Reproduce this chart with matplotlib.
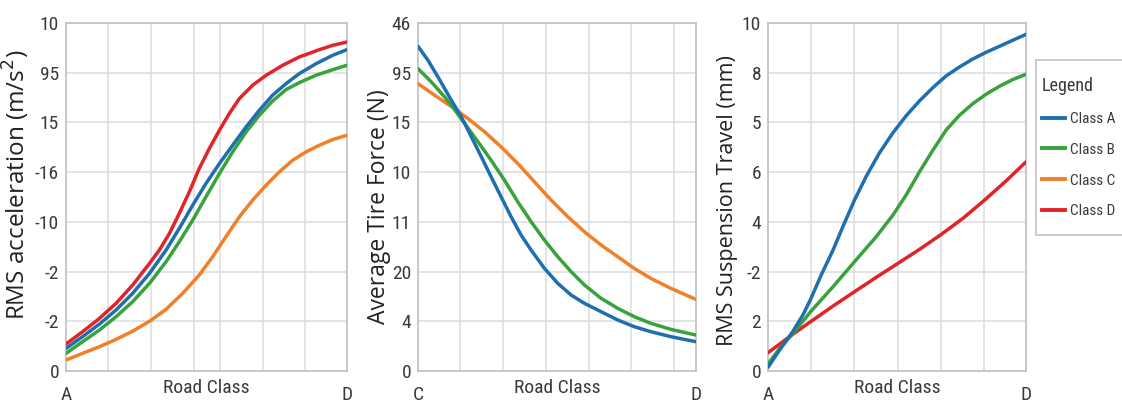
import matplotlib
matplotlib.use("Agg")
import matplotlib.pyplot as plt
from matplotlib.lines import Line2D
from matplotlib.patches import Rectangle
from matplotlib import font_manager

# ---------------- data ----------------
classes = ["Class A", "Class B", "Class C", "Class D"]
colors = {"Class A": "#1f6fb0", "Class B": "#38a23c", "Class C": "#f0802a", "Class D": "#e02428"}

# Panel 1: RMS acceleration (values in tick-index units)
p1_ticklabels = ["0", "-2", "-2", "-10", "-16", "15", "95", "10"]
p1_a_x = [0, .059, .119, .178, .237, .297, .356, .403, .451, .498, .546, .593, .641, .688, .735, .783, .830, .890, .949, 1.0]
p1_a_y = [.455, .690, .944, 1.226, 1.561, 1.962, 2.431, 2.867, 3.336, 3.771, 4.173, 4.541, 4.910, 5.245, 5.546, 5.780, 5.981, 6.182, 6.350, 6.464]
p1_b_x = [0, .059, .119, .178, .237, .297, .356, .403, .451, .498, .546, .593, .641, .688, .735, .783, .830, .890, .949, 1.0]
p1_b_y = [.355, .589, .824, 1.092, 1.393, 1.762, 2.197, 2.599, 3.034, 3.503, 3.972, 4.407, 4.809, 5.144, 5.430, 5.660, 5.800, 5.950, 6.060, 6.150]
p1_c_x = [0, .059, .119, .178, .237, .297, .356, .415, .474, .522, .569, .617, .664, .712, .759, .807, .854, .902, .949, 1.0]
p1_c_y = [.221, .355, .489, .636, .800, 1.000, 1.240, 1.560, 1.929, 2.300, 2.700, 3.101, 3.436, 3.737, 4.005, 4.240, 4.407, 4.541, 4.655, 4.742]
p1_d_x = [0, .059, .119, .178, .237, .297, .332, .368, .403, .439, .474, .510, .546, .581, .617, .664, .712, .771, .830, .902, .949, 1.0]
p1_d_y = [.543, .790, 1.058, 1.360, 1.728, 2.163, 2.431, 2.766, 3.168, 3.604, 4.072, 4.474, 4.843, 5.178, 5.479, 5.747, 5.948, 6.149, 6.316, 6.464, 6.551, 6.618]

# Panel 2: Average tire force
p2_ticklabels = ["0", "4", "20", "11", "10", "15", "95", "46"]
p2_a_x = [0, .036, .072, .120, .156, .192, .228, .263, .299, .335, .371, .407, .455, .503, .551, .599, .659, .719, .778, .838, .910, 1.0]
p2_a_y = [6.531, 6.249, 5.914, 5.445, 5.111, 4.709, 4.307, 3.905, 3.503, 3.101, 2.733, 2.431, 2.063, 1.762, 1.527, 1.360, 1.192, 1.025, .891, .790, .690, .589]
p2_b_x = [0, .048, .096, .126, .168, .216, .263, .311, .359, .407, .455, .503, .551, .599, .659, .719, .778, .838, .910, 1.0]
p2_b_y = [6.082, 5.814, 5.512, 5.298, 4.977, 4.608, 4.240, 3.838, 3.403, 3.001, 2.632, 2.297, 1.996, 1.728, 1.460, 1.259, 1.092, .958, .837, .723]
p2_c_x = [0, .060, .126, .180, .240, .299, .359, .419, .479, .539, .599, .659, .719, .778, .838, .910, 1.0]
p2_c_y = [5.780, 5.546, 5.298, 5.077, 4.809, 4.508, 4.173, 3.804, 3.436, 3.101, 2.800, 2.532, 2.297, 2.063, 1.862, 1.661, 1.440]

# Panel 3: RMS suspension travel
p3_ticklabels = ["0", "2", "-2", "4", "6", "5", "8", "10"]
p3_a_x = [0, .045, .097, .135, .165, .206, .252, .290, .335, .381, .432, .484, .535, .587, .639, .690, .742, .794, .845, .897, .948, 1.0]
p3_a_y = [.074, .422, .800, 1.125, 1.440, 1.929, 2.431, 2.900, 3.436, 3.918, 4.387, 4.789, 5.131, 5.432, 5.700, 5.934, 6.115, 6.276, 6.410, 6.531, 6.651, 6.772]
p3_b_x = [0, .045, .097, .165, .252, .335, .419, .484, .535, .587, .639, .690, .742, .794, .845, .897, .948, 1.0]
p3_b_y = [.141, .455, .757, 1.192, 1.695, 2.197, 2.699, 3.135, 3.536, 4.005, 4.441, 4.843, 5.144, 5.378, 5.566, 5.727, 5.861, 5.968]
p3_d_x = [0, .097, .165, .252, .335, .419, .503, .587, .671, .755, .839, .923, 1.0]
p3_d_y = [.368, .743, .991, 1.306, 1.594, 1.882, 2.163, 2.445, 2.746, 3.068, 3.436, 3.825, 4.206]

xlabels = [["A", "D"], ["C", "D"], ["A", "D"]]
ylabels = ["RMS acceleration (m/s$^2$)", "Average Tire Force (N)", "RMS Suspension Travel (mm)"]
grid_x = [
    [0.151, 0.302, 0.454, 0.548, 0.700, 0.852],
    [0.152, 0.305, 0.459, 0.614, 0.766, 0.920],
    [0.165, 0.335, 0.503, 0.671, 0.839],
]

panels = [
    [("Class C", p1_c_x, p1_c_y), ("Class B", p1_b_x, p1_b_y), ("Class A", p1_a_x, p1_a_y), ("Class D", p1_d_x, p1_d_y)],
    [("Class C", p2_c_x, p2_c_y), ("Class B", p2_b_x, p2_b_y), ("Class A", p2_a_x, p2_a_y)],
    [("Class D", p3_d_x, p3_d_y), ("Class B", p3_b_x, p3_b_y), ("Class A", p3_a_x, p3_a_y)],
]
yticklabels = [p1_ticklabels, p2_ticklabels, p3_ticklabels]

# ---------------- fonts ----------------
names = {f.name for f in font_manager.fontManager.ttflist}
narrow_name = None
for cand in ["Liberation Sans Narrow", "Roboto Condensed", "Open Sans Condensed", "DejaVu Sans Condensed",
             "Noto Sans Condensed", "Arial Narrow"]:
    if cand in names:
        narrow_name = cand
        break
stretch = "normal"
if narrow_name is None:
    for f in font_manager.fontManager.ttflist:
        if f.name in ("DejaVu Sans", "Noto Sans", "Open Sans", "Roboto") and str(f.stretch) in ("condensed", "semi-condensed", "extra-condensed", "75", "87.5"):
            narrow_name = f.name
            stretch = f.stretch
            break
if narrow_name is None:
    tick_font = dict(family=["Liberation Sans", "DejaVu Sans"])
    tick_size, road_size, leg_size = 13, 12, 10
else:
    tick_font = dict(family=[narrow_name, "DejaVu Sans"], stretch=stretch)
    tick_size, road_size, leg_size = 14, 14, 11

label_font = ["Open Sans", "DejaVu Sans"]
label_sizes = [17.5, 16.5, 15.5]
label_x = [-0.120, -0.098, -0.115]
label_y = [0.536, 0.473, 0.49]

# ---------------- figure ----------------
fig = plt.figure(figsize=(11.22, 4.11), dpi=100)
rects = [
    (66 / 1122, 1 - 371 / 411, 281 / 1122, 348 / 411),
    (418 / 1122, 1 - 371 / 411, 278 / 1122, 348 / 411),
    (768 / 1122, 1 - 371 / 411, 258 / 1122, 348 / 411),
]
tick_color = "#3a3a3a"
edge_color = "#c4c4c4"

for i, rect in enumerate(rects):
    ax = fig.add_axes(rect)
    ax.set_xlim(0, 1)
    ax.set_ylim(0, 7)
    for cls, xs, ys in panels[i]:
        ax.plot(xs, ys, color=colors[cls], lw=2.5, solid_capstyle="round", solid_joinstyle="round", zorder=3)
    ax.set_yticks(range(8))
    ax.set_yticklabels(yticklabels[i], fontsize=tick_size, color=tick_color, **tick_font)
    ax.set_xticks([0, 1])
    ax.set_xticklabels(xlabels[i], fontsize=tick_size, color=tick_color, **tick_font)
    ax.set_xticks(grid_x[i], minor=True)
    ax.tick_params(axis="both", which="both", length=0)
    ax.tick_params(axis="y", pad=5)
    ax.tick_params(axis="x", pad=11)
    ax.grid(True, axis="y", which="major", color="#dcdcdc", lw=1.1)
    ax.grid(True, axis="x", which="minor", color="#dcdcdc", lw=1.1)
    ax.set_axisbelow(True)
    for s in ax.spines.values():
        s.set_color(edge_color)
        s.set_linewidth(1.3)
    ax.set_xlabel("Road Class", fontsize=road_size, color=tick_color, labelpad=-18, **tick_font)
    ax.set_ylabel(ylabels[i], fontsize=label_sizes[i], family=label_font, color="#222222")
    ax.yaxis.set_label_coords(label_x[i], label_y[i])

# legend frame (runs off the right edge as in the reference)
fig.patches.append(Rectangle((1036 / 1122, 1 - 235 / 411), 100 / 1122, 175 / 411,
                             transform=fig.transFigure, fill=True, facecolor="white",
                             edgecolor=edge_color, lw=1.2, zorder=5))

handles = [Line2D([0], [0], color=colors[c], lw=2.8) for c in classes]
leg = fig.legend(handles, classes, loc="upper left", bbox_to_anchor=(1036 / 1122, 1 - 71 / 411),
                 title="Legend", frameon=False, handlelength=1.5, handletextpad=0.35,
                 borderpad=0.4, labelspacing=1.1, borderaxespad=0,
                 prop=dict(size=leg_size, **tick_font),
                 title_fontproperties=dict(size=leg_size + 2, **tick_font))
leg.set_zorder(6)
leg._legend_box.align = "left"
for t in leg.get_texts():
    t.set_color(tick_color)
leg.get_title().set_color(tick_color)

fig.savefig("out.png", dpi=100)
